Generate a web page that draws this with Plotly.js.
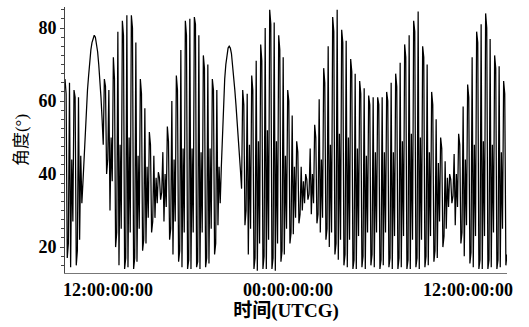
<!DOCTYPE html>
<html><head><meta charset="utf-8">
<script src="https://cdn.plot.ly/plotly-3.0.1.min.js"></script>
<style>html,body{margin:0;padding:0;background:#fff}</style>
</head><body><div id="chart" style="width:529px;height:327px"></div>
<script>
// time sampling (hours)
const startHour = 9.13;
const stepHour = 0.075;
const tickHours = [12, 24, 36];
const tickLabels = ['12:00:00:00', '00:00:00:00', '12:00:00:00'];

// each oscillation cycle holds four consecutive samples (A, B, C, D) in time order
const seg1A = [66, 65, 63, 61];
const seg1B = [62, 14.5, 61, 22];
const seg1C = [17, 44, 15, 45];
const seg1D = [21, 27, 19, 32];

const hump1 = [38, 45, 52, 58, 63, 67, 71, 74, 76, 77.5, 78, 77.5, 76, 73.5, 70, 66, 61, 55, 48];

const seg2A = [66, 63, 72, 79, 82, 83.5, 83.5, 76, 66, 58, 51.5, 45, 40.5, 46, 53, 60, 67, 74, 82, 82.5, 83, 78, 72.5, 70, 66, 63];
const seg2B = [64, 30, 66, 15, 78, 14.5, 80, 16, 62, 21, 48, 28, 39, 27, 49, 18, 63, 14.5, 78, 14, 81, 14, 69, 15.5, 63, 26];
const seg2C = [40, 50, 20, 48, 14, 50, 14, 45, 19, 42, 24, 39, 33, 40, 22, 44, 16, 47, 14, 47, 14.5, 46, 14.5, 47, 18, 42];
const seg2D = [44, 38, 24, 25, 17, 24, 17, 25, 22, 28, 27, 32, 35, 31, 25, 27, 19, 24, 16.5, 24, 16, 24, 17, 25, 21, 32];

const hump2 = [42, 52, 60, 66, 70, 73, 74.5, 75, 74.5, 73, 70, 66.5, 63, 59, 55, 50.5, 46, 41, 36];

const seg3A = [63, 62, 67, 71, 75.5, 80, 85, 81.5, 78, 72, 63, 56, 49, 42, 40, 47, 53.5, 60.5, 69, 75, 83, 85, 79.5, 76.5, 71.5, 67.5, 65.5, 63.5, 61.5, 61, 61, 61, 62.5, 65, 67.5, 70.5, 75.5, 78, 82, 84.5, 75, 70, 62.5, 55, 50, 43.5, 40, 45.5, 51, 58.5, 64.5, 72, 79, 81, 84, 77, 72.5, 69.5, 65.5];
const seg3B = [59, 18, 63, 13.5, 71, 14, 81, 13.5, 74, 18, 60, 23.5, 46, 30, 38.5, 29, 50, 24, 65, 20, 79, 16.5, 76, 14.5, 68, 14, 62, 14, 59, 14.5, 59, 15, 60, 14, 64, 14.5, 72, 14, 79, 14, 72, 15, 59, 17, 47, 25, 38.5, 26, 48, 17.5, 61, 14.5, 76, 14, 80, 14.5, 69, 14.5, 62];
const seg3C = [26, 48, 14, 49, 14, 52, 14, 49, 16, 45, 21, 42, 26.5, 38, 33, 40, 26.5, 44, 22, 48, 18, 51, 15, 50, 14, 47, 14.5, 45, 15, 46, 14, 46, 14.5, 46, 14, 49, 14, 51, 14.5, 50, 14.5, 46, 16, 43, 20, 39, 32, 40, 21, 44, 15.5, 48, 14, 49, 14, 48, 14, 46, 15];
const seg3D = [30, 25, 17, 21, 17.5, 22, 17, 21, 19, 25, 24, 28, 29, 32, 34.5, 32, 29, 28, 25, 24, 21, 22, 18, 22, 16.5, 23, 17.5, 24, 18, 24, 16.5, 24, 17, 23, 17, 23, 16.5, 22, 17, 22, 17.5, 23, 19, 27, 23, 31, 34, 31, 24, 26, 18.5, 23, 16.5, 23, 16.5, 24, 16.5, 25, 18];

const values = [];
function addSeg(a, b, c, d) {
  for (let i = 0; i < a.length; i++) values.push(a[i], b[i], c[i], d[i]);
}
addSeg(seg1A, seg1B, seg1C, seg1D);
values.push(...hump1);
addSeg(seg2A, seg2B, seg2C, seg2D);
values.push(...hump2);
addSeg(seg3A, seg3B, seg3C, seg3D);
const times = values.map((v, i) => startHour + i * stepHour);

const serif = 'Liberation Serif, Times New Roman, serif';
const cjk = 'Liberation Serif, Noto Sans CJK SC, serif';

Plotly.newPlot('chart', [{
  x: times, y: values, type: 'scatter', mode: 'lines',
  line: {color: '#000', width: 1.25}, hoverinfo: 'skip'
}], {
  width: 529, height: 327,
  margin: {l: 65, r: 22, t: 7, b: 54},
  paper_bgcolor: '#fff', plot_bgcolor: '#fff',
  showlegend: false,
  xaxis: {
    range: [startHour, startHour + (values.length - 1) * stepHour],
    tickvals: tickHours, ticktext: tickLabels,
    showgrid: false, zeroline: false,
    showline: true, linecolor: '#777', linewidth: 1,
    ticks: '', tickfont: {family: serif, size: 18, color: '#000', weight: 'bold'},
    title: {text: '时间(UTCG)', font: {family: cjk, size: 19, color: '#000', weight: 'bold'}, standoff: 4}
  },
  yaxis: {
    range: [12.9, 85.75],
    tickvals: [20, 40, 60, 80],
    showgrid: false, zeroline: false,
    showline: true, linecolor: '#444', linewidth: 1,
    ticks: 'outside', ticklen: 4, tickcolor: '#444',
    minor: {dtick: 2.5, ticklen: 3, tickcolor: '#444', ticks: 'outside'},
    tickfont: {family: serif, size: 18, color: '#000', weight: 'bold'},
    title: {text: '角度(°)', font: {family: cjk, size: 17, color: '#000'}, standoff: 6}
  }
}, {staticPlot: true});
</script>
</body></html>
